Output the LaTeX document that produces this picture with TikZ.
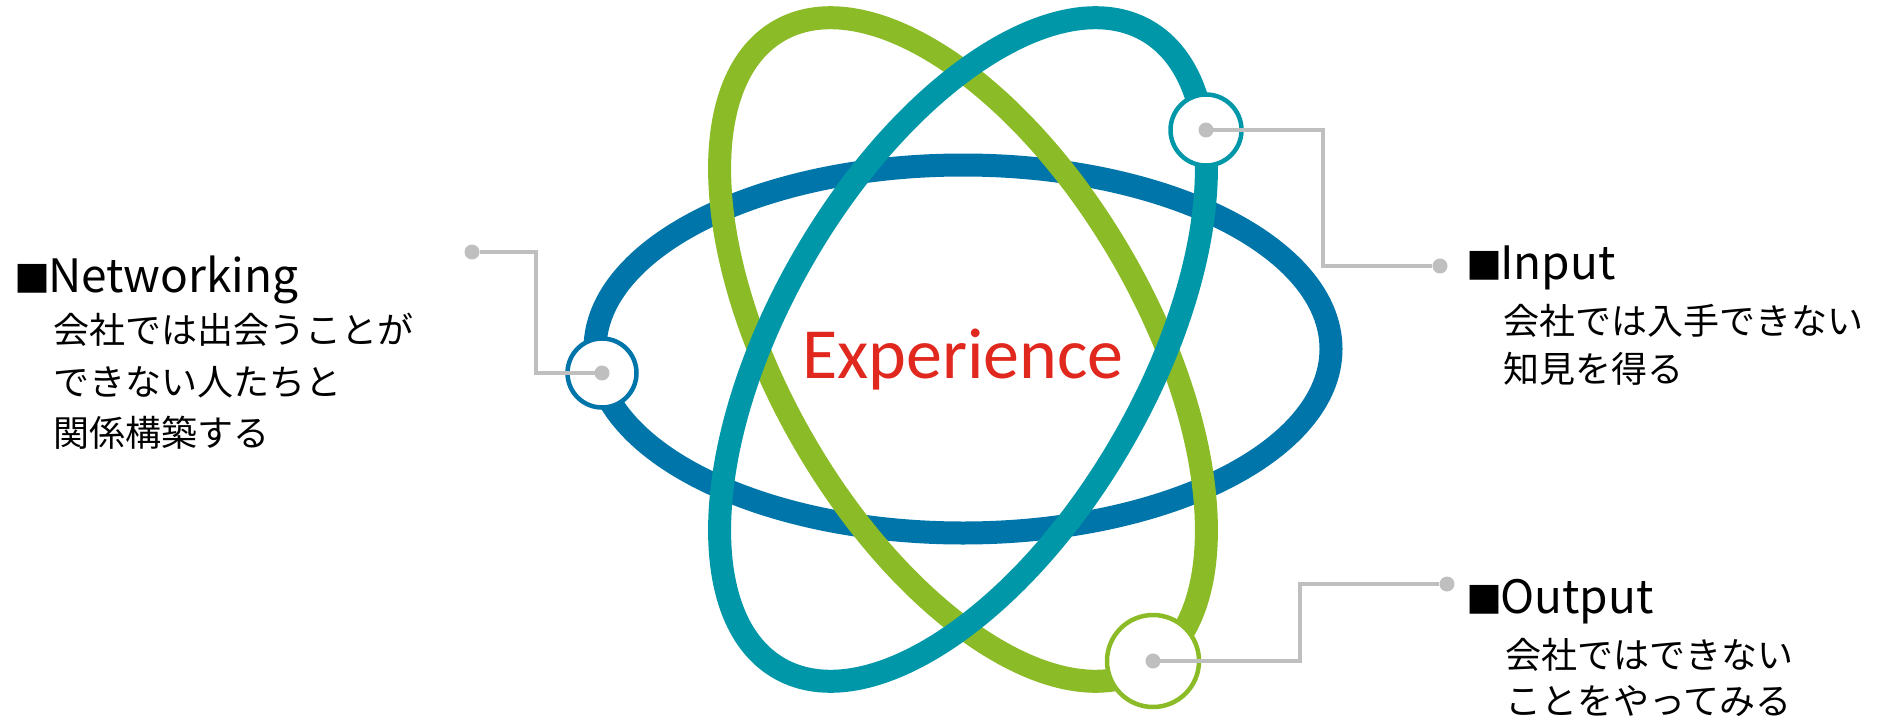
\documentclass[tikz,border=0pt]{standalone}
\usepackage{fontspec}
\setmainfont{Noto Sans CJK JP}
\newfontfamily\expfont{Carlito}
\definecolor{cblue}{RGB}{0,117,169}
\definecolor{cteal}{RGB}{0,152,168}
\definecolor{cgreen}{RGB}{139,188,40}
\definecolor{cred}{RGB}{224,40,30}
\definecolor{cgray}{RGB}{191,191,191}
\tikzset{
  orbit/.style={line width=23pt},
  ring/.style={circle, draw, line width=4.5pt, fill=white, inner sep=0pt},
  gdot/.style={circle, fill=cgray, inner sep=0pt, minimum size=15pt},
  conn/.style={draw=cgray, line width=3.2pt},
  head/.style={anchor=base west, inner sep=0pt, font=\fontsize{46}{46}\selectfont},
  jp/.style={anchor=base west, inner sep=0pt, font=\fontsize{36}{36}\selectfont},
}
\newcommand{\sq}{{\fontsize{36}{36}\selectfont ■}}
\begin{document}
\begin{tikzpicture}[x=1pt,y=-1pt]
\useasboundingbox (0,0) rectangle (1898,720);
% orbits
\draw[orbit, cblue] (963,349) ellipse [x radius=368pt, y radius=184pt];
\draw[orbit, cgreen, shift={(963,349.5)}, rotate=-60] (0,0) ellipse [x radius=368pt, y radius=184pt];
\draw[orbit, cteal, shift={(963,349.5)}, rotate=60] (0,0) ellipse [x radius=368pt, y radius=184pt];
% center text
\node[anchor=base, inner sep=0pt, font=\expfont\fontsize{72}{72}\selectfont, text=cred] (exp) at (963,378) {Experience};
% ring nodes
\node[ring, draw=cblue, minimum size=69pt] (ncirc) at (602,373) {};
\node[ring, draw=cteal, minimum size=71pt] (icirc) at (1206,130) {};
\node[ring, draw=cgreen, minimum size=92pt] (ocirc) at (1153,661) {};
% end dots
\node[gdot] (ndot) at (472,252) {};
\node[gdot] (idot) at (1440,266) {};
\node[gdot] (odot) at (1447,584) {};
% connectors
\draw[conn] (ncirc.center) -- ++(-66,0) |- (ndot);
\draw[conn] (icirc.center) -- ++(117,0) |- (idot);
\draw[conn] (ocirc.center) -- ++(147,0) |- (odot);
\node[gdot] (ncd) at (ncirc.center) {};
\node[gdot] (icd) at (icirc.center) {};
\node[gdot] (ocd) at (ocirc.center) {};
% labels
\node[head] (nh) at (14,292) {\sq\hspace{-2pt}Networking};
\node[jp] (n1) at (53,343) {会社では出会うことが};
\node[jp] (n2) at (53,395) {できない人たちと};
\node[jp] (n3) at (53,446) {関係構築する};
\node[head] (ih) at (1466,279) {\sq\hspace{-2pt}Input};
\node[jp] (i1) at (1503,334) {会社では入手できない};
\node[jp] (i2) at (1503,382) {知見を得る};
\node[head] (oh) at (1466,613) {\sq\hspace{-2pt}Output};
\node[jp] (o1) at (1505,668) {会社ではできない};
\node[jp] (o2) at (1505,714) {ことをやってみる};
\end{tikzpicture}
\end{document}
